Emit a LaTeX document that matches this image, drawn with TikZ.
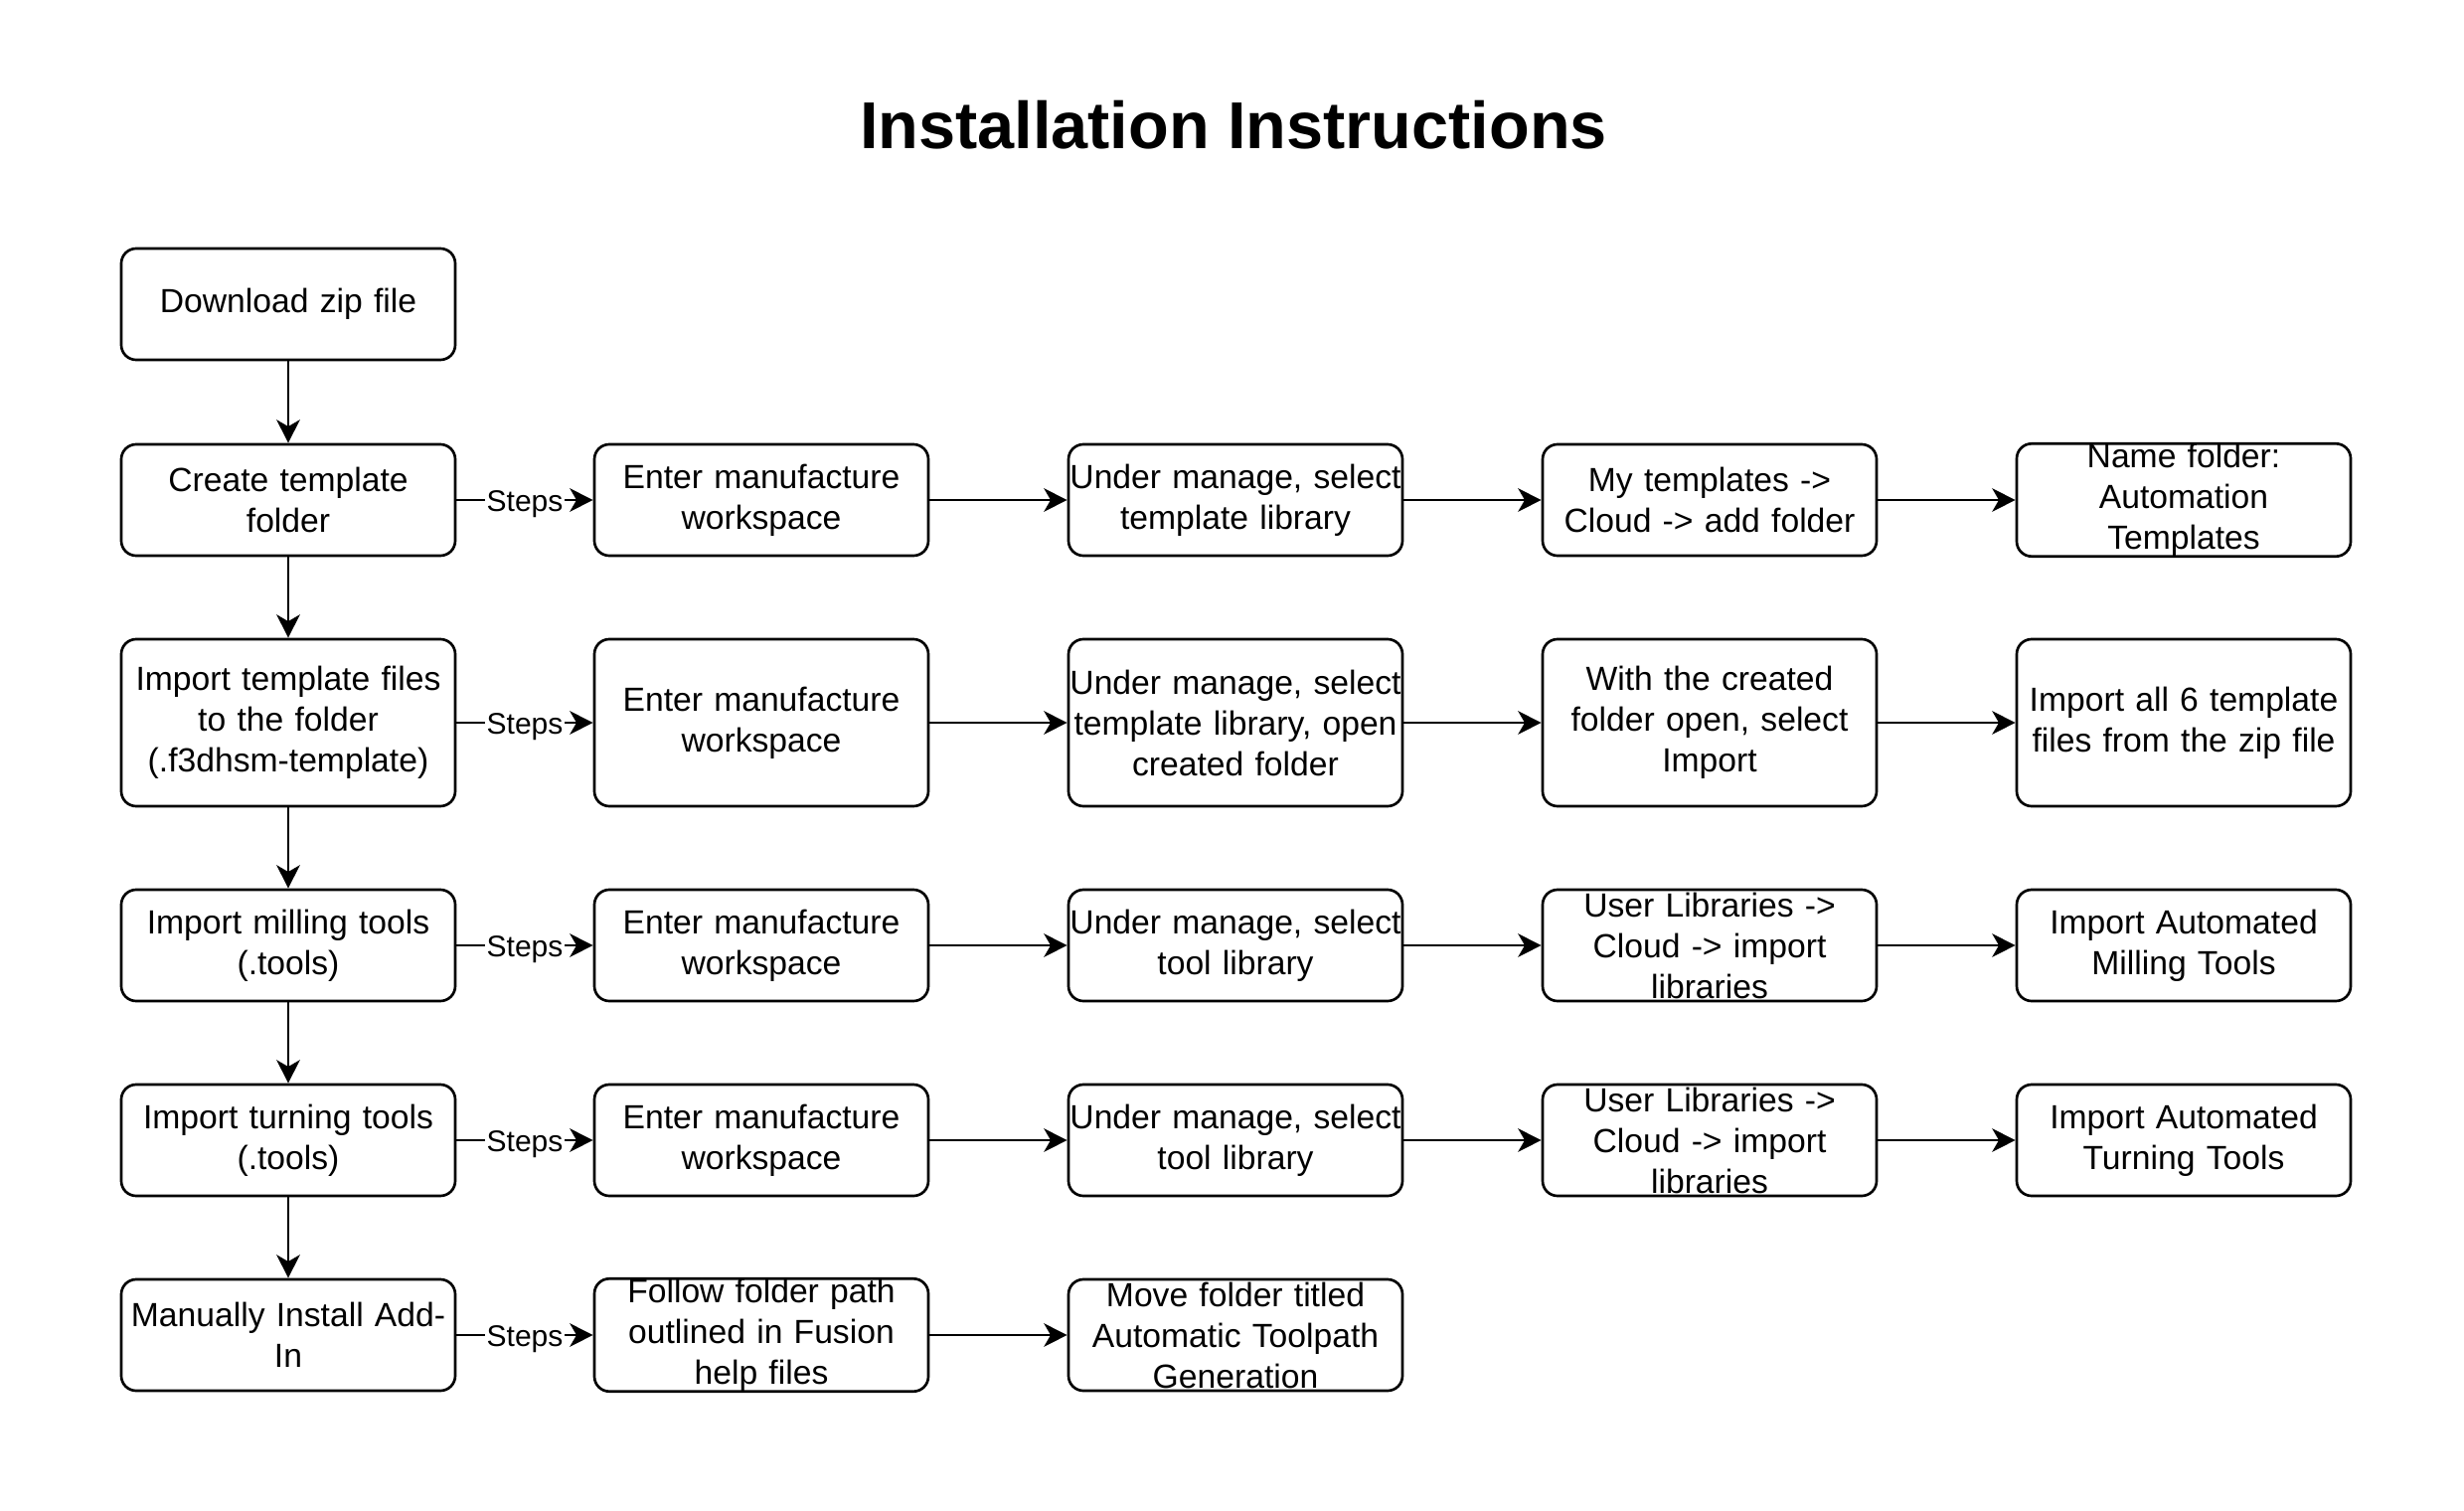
\documentclass[tikz,border=0pt]{standalone}
\usepackage{fontspec}
\setmainfont{Liberation Sans}
\usetikzlibrary{arrows.meta}
\begin{document}
\begin{tikzpicture}[x=0.3pt,y=-0.3pt,
  box/.style={draw, line width=0.8pt, rounded corners=4.5pt,
    minimum width=100.8pt, text width=100.8pt, minimum height=33.6pt,
    inner sep=0pt, align=center, font=\fontsize{10.1}{12.3}\selectfont},
  tallbox/.style={box, minimum height=50.4pt},
  arr/.style={draw, line width=0.8pt, -{Stealth[length=7pt,width=7pt,inset=2pt]}},
  steps/.style={fill=white, inner sep=0.6pt, yshift=-1.2pt, font=\fontsize{9}{10}\selectfont},
  titlestyle/.style={font=\fontsize{20}{24}\selectfont\bfseries}]
\useasboundingbox (0,0) rectangle (2479,1520);
\node[titlestyle] (title) at (1241,126) {Installation Instructions};
% row 1
\node[box] (a1) at (290,306) {Download zip file};
% row 2
\node[box] (a2) at (290,503) {Create template\\folder};
\node[box] (b2) at (766,503) {Enter manufacture\\workspace};
\node[box] (c2) at (1243,503) {Under manage, select\\template library};
\node[box] (d2) at (1720,503) {My templates ->\\Cloud -> add folder};
\node[box] (e2) at (2197,503) {Name folder:\\Automation\\Templates};
% row 3
\node[tallbox] (a3) at (290,727) {Import template files\\to the folder\\(.f3dhsm-template)};
\node[tallbox] (b3) at (766,727) {Enter manufacture\\workspace};
\node[tallbox] (c3) at (1243,727) {Under manage, select\\template library, open\\created folder};
\node[tallbox] (d3) at (1720,727) {With the created\\folder open, select\\Import};
\node[tallbox] (e3) at (2197,727) {Import all 6 template\\files from the zip file};
% row 4
\node[box] (a4) at (290,951) {Import milling tools\\(.tools)};
\node[box] (b4) at (766,951) {Enter manufacture\\workspace};
\node[box] (c4) at (1243,951) {Under manage, select\\tool library};
\node[box] (d4) at (1720,951) {User Libraries ->\\Cloud -> import\\libraries};
\node[box] (e4) at (2197,951) {Import Automated\\Milling Tools};
% row 5
\node[box] (a5) at (290,1147) {Import turning tools\\(.tools)};
\node[box] (b5) at (766,1147) {Enter manufacture\\workspace};
\node[box] (c5) at (1243,1147) {Under manage, select\\tool library};
\node[box] (d5) at (1720,1147) {User Libraries ->\\Cloud -> import\\libraries};
\node[box] (e5) at (2197,1147) {Import Automated\\Turning Tools};
% row 6
\node[box] (a6) at (290,1343) {Manually Install Add-\\In};
\node[box] (b6) at (766,1343) {Follow folder path\\outlined in Fusion\\help files};
\node[box] (c6) at (1243,1343) {Move folder titled\\Automatic Toolpath\\Generation};
% vertical connectors
\draw[arr] (a1) -- (a2);
\draw[arr] (a2) -- (a3);
\draw[arr] (a3) -- (a4);
\draw[arr] (a4) -- (a5);
\draw[arr] (a5) -- (a6);
% horizontal connectors
\foreach \r in {2,3,4,5}{
  \draw[arr] (a\r) -- node[steps] {Steps} (b\r);
  \draw[arr] (b\r) -- (c\r);
  \draw[arr] (c\r) -- (d\r);
  \draw[arr] (d\r) -- (e\r);
}
\draw[arr] (a6) -- node[steps] {Steps} (b6);
\draw[arr] (b6) -- (c6);
\end{tikzpicture}
\end{document}
